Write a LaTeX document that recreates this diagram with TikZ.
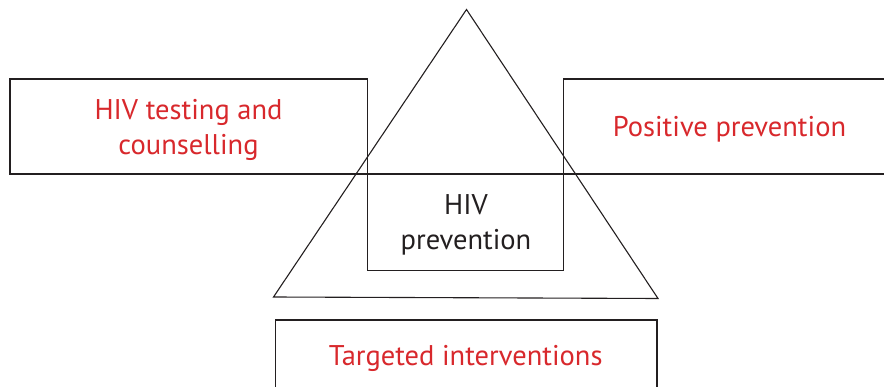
\documentclass[tikz,border=0pt]{standalone}
\usepackage{fontspec}
\setmainfont{PT Sans}
\definecolor{lbl}{RGB}{216,40,44}
\definecolor{ink}{RGB}{35,31,32}
\begin{document}
\begin{tikzpicture}[x=1pt,y=-1pt,
  shape line/.style={draw=ink,line width=1.1pt,line join=miter},
  redtxt/.style={text=lbl,inner sep=0pt,anchor=base,font=\fontsize{28.5}{35}\selectfont},
  blacktxt/.style={text=ink,inner sep=0pt,anchor=base,font=\fontsize{28.5}{35}\selectfont}]
\useasboundingbox (0,0) rectangle (884,387);
\clip (0,0) rectangle (884,387);
% coordinates
\coordinate (apex) at (466.5,9.5);
\coordinate (tl) at (273.5,297);
\coordinate (tr) at (658,298.5);
% triangle
\draw[shape line] (apex) -- (tl) -- (tr) -- cycle;
% left box
\draw[shape line] (10,79) rectangle (367.5,174);
% right box (runs off the right edge)
\draw[shape line] (900,79) -- (563.3,79) -- (563.3,270.3) -- (367.5,270.3) -- (367.5,174);
% long horizontal line
\draw[shape line] (367.5,174) -- (900,174);
% bottom box (runs off the bottom edge)
\draw[shape line] (275.7,400) -- (275.7,320) -- (657,320) -- (657,400);
% texts
\node[redtxt] (l1) at (188.5,120) {HIV testing and};
\node[redtxt] (l2) at (188.5,155) {counselling};
\node[redtxt] (r1) at (729.5,137) {Positive prevention};
\node[blacktxt] (c1) at (466,215) {HIV};
\node[blacktxt] (c2) at (466,250) {prevention};
\node[redtxt] (b1) at (465.7,366) {Targeted interventions};
\end{tikzpicture}
\end{document}
